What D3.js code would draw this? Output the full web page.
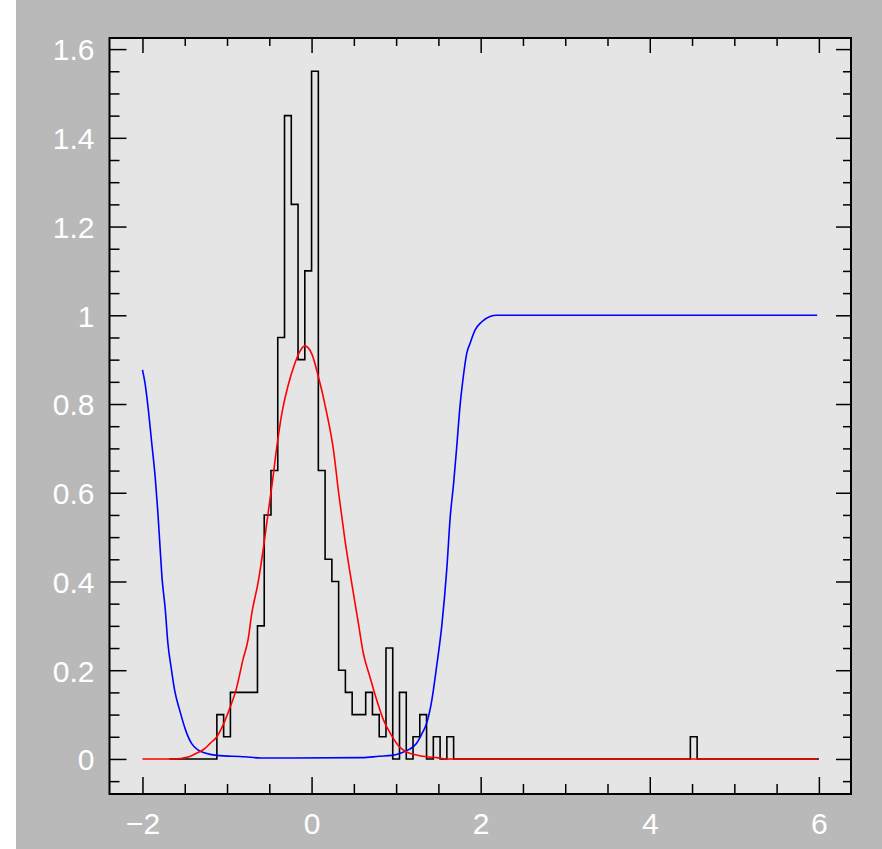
<!DOCTYPE html>
<html>
<head>
<meta charset="utf-8">
<script src="https://cdn.jsdelivr.net/npm/d3@7"></script>
<style>
  body { margin: 0; background: #ffffff; }
  svg { display: block; }
</style>
</head>
<body>
<svg width="882" height="849"></svg>
<script>
// histogram: bins of 0.08 starting at -1.68 (density per bin)
var histStart = -1.68,
    binWidth = 0.08;
var density = [
  0, 0, 0, 0, 0, 0, 0,
  0.1, 0.05, 0.15, 0.15, 0.15, 0.15, 0.3, 0.55, 0.65, 0.95,
  1.45, 1.25, 0.9, 1.1, 1.55, 0.65, 0.45, 0.4, 0.2, 0.15,
  0.1, 0.1, 0.15, 0.1, 0.05, 0.25, 0, 0.15, 0, 0.05,
  0.1, 0, 0.05, 0, 0.05,
  0, 0, 0, 0, 0, 0, 0, 0, 0, 0,
  0, 0, 0, 0, 0, 0, 0, 0, 0, 0,
  0, 0, 0, 0, 0, 0, 0, 0, 0, 0,
  0, 0, 0, 0, 0,
  0.05,
  0, 0, 0, 0, 0, 0, 0, 0, 0, 0,
  0, 0, 0, 0, 0, 0, 0, 0
];

// red curve (fitted density)
var redCurve = [
  [-2.0, 0], [-1.64, 0], [-1.45, 0.005], [-1.36, 0.013], [-1.26, 0.024],
  [-1.2, 0.035], [-1.12, 0.05], [-1.05, 0.075], [-0.97, 0.113], [-0.89, 0.158],
  [-0.81, 0.225], [-0.75, 0.27], [-0.71, 0.325], [-0.63, 0.4], [-0.57, 0.475],
  [-0.51, 0.56], [-0.47, 0.615], [-0.41, 0.705], [-0.355, 0.775], [-0.28, 0.84],
  [-0.2, 0.89], [-0.14, 0.918], [-0.08, 0.931], [0, 0.914], [0.08, 0.862],
  [0.18, 0.779], [0.26, 0.695], [0.32, 0.6], [0.39, 0.5], [0.45, 0.425],
  [0.55, 0.31], [0.61, 0.24], [0.69, 0.185], [0.77, 0.133], [0.85, 0.088],
  [0.93, 0.058], [1.03, 0.029], [1.12, 0.016], [1.24, 0.009], [1.36, 0.005],
  [1.48, 0.003], [1.6, 0], [5.98, 0]
];

// blue curve
var blueCurve = [
  [-2.0, 0.877], [-1.97, 0.847], [-1.93, 0.786], [-1.89, 0.711], [-1.85, 0.636],
  [-1.82, 0.561], [-1.795, 0.486], [-1.77, 0.411], [-1.73, 0.336], [-1.7, 0.262],
  [-1.66, 0.205], [-1.62, 0.155], [-1.56, 0.11], [-1.49, 0.065], [-1.42, 0.035],
  [-1.34, 0.02], [-1.25, 0.013], [-1.12, 0.008], [-0.79, 0.005], [-0.6, 0.002],
  [0.6, 0.003], [0.8, 0.006], [0.95, 0.008], [1.05, 0.013], [1.16, 0.022],
  [1.24, 0.035], [1.3, 0.055], [1.36, 0.08], [1.42, 0.13], [1.48, 0.21],
  [1.54, 0.3], [1.6, 0.43], [1.64, 0.546], [1.68, 0.621], [1.72, 0.711],
  [1.755, 0.794], [1.795, 0.862], [1.835, 0.914], [1.875, 0.937], [1.935, 0.967],
  [2.01, 0.985], [2.11, 0.997], [2.19, 1.0], [5.98, 1.0]
];

var xMajor = [-2, 0, 2, 4, 6],
    xLabels = ["\u22122", "0", "2", "4", "6"],
    xMinor = [-1.5, -1, -0.5, 0.5, 1, 1.5, 2.5, 3, 3.5, 4.5, 5, 5.5];
var yMajor = [0, 0.2, 0.4, 0.6, 0.8, 1, 1.2, 1.4, 1.6],
    yLabels = ["0", "0.2", "0.4", "0.6", "0.8", "1", "1.2", "1.4", "1.6"],
    yMinor = [-0.05, 0.05, 0.1, 0.15, 0.25, 0.3, 0.35, 0.45, 0.5, 0.55,
              0.65, 0.7, 0.75, 0.85, 0.9, 0.95, 1.05, 1.1, 1.15, 1.25,
              1.3, 1.35, 1.45, 1.5, 1.55];

var svg = d3.select("svg"),
    plotLeft = 109.5, plotRight = 851, plotTop = 38, plotBottom = 794;

var xScale = d3.scaleLinear().domain([-2.39, 6.38]).range([plotLeft, plotRight]),
    yScale = d3.scaleLinear().domain([-0.079, 1.625]).range([plotBottom, plotTop]);

// backgrounds
svg.append("rect").attr("x", 16).attr("y", 0).attr("width", 866).attr("height", 849)
   .attr("fill", "#b9b9b9");
svg.append("rect").attr("x", plotLeft).attr("y", plotTop)
   .attr("width", plotRight - plotLeft).attr("height", plotBottom - plotTop)
   .attr("fill", "#e5e5e5");

// histogram outline
var histPts = density.map(function(d, i) { return [histStart + i * binWidth, d]; });
histPts.push([histStart + density.length * binWidth, 0]);

var stepLine = d3.line()
    .x(function(d) { return xScale(d[0]); })
    .y(function(d) { return yScale(d[1]); })
    .curve(d3.curveStepAfter);

svg.append("path").datum(histPts)
   .attr("d", stepLine)
   .attr("fill", "none").attr("stroke", "#000").attr("stroke-width", 1.6);

var smooth = d3.line()
    .x(function(d) { return xScale(d[0]); })
    .y(function(d) { return yScale(d[1]); })
    .curve(d3.curveMonotoneX);

svg.append("path").datum(blueCurve)
   .attr("d", smooth)
   .attr("fill", "none").attr("stroke", "#0000ff").attr("stroke-width", 1.6);

svg.append("path").datum(redCurve)
   .attr("d", smooth)
   .attr("fill", "none").attr("stroke", "#ff0000").attr("stroke-width", 1.6);

// axes (ticks point inward)
function styleAxis(g) {
  g.select(".domain").remove();
  g.selectAll("line").attr("stroke", "#000").attr("stroke-width", 1.5);
  g.selectAll("text").attr("fill", "#fff")
   .style("font-family", "'Liberation Sans', Arial, sans-serif")
   .style("font-size", "30px");
}

svg.append("g").attr("transform", "translate(0," + plotBottom + ")")
   .call(d3.axisBottom(xScale).tickValues(xMajor).tickSizeInner(-17).tickSizeOuter(0)
         .tickPadding(19).tickFormat(function(d, i) { return xLabels[i]; }))
   .call(styleAxis);
svg.append("g").attr("transform", "translate(0," + plotBottom + ")")
   .call(d3.axisBottom(xScale).tickValues(xMinor).tickSizeInner(-10).tickSizeOuter(0)
         .tickFormat(""))
   .call(styleAxis);
svg.append("g").attr("transform", "translate(0," + plotTop + ")")
   .call(d3.axisTop(xScale).tickValues(xMajor).tickSizeInner(-15).tickSizeOuter(0)
         .tickFormat(""))
   .call(styleAxis);
svg.append("g").attr("transform", "translate(0," + plotTop + ")")
   .call(d3.axisTop(xScale).tickValues(xMinor).tickSizeInner(-8).tickSizeOuter(0)
         .tickFormat(""))
   .call(styleAxis);

svg.append("g").attr("transform", "translate(" + plotLeft + ",0)")
   .call(d3.axisLeft(yScale).tickValues(yMajor).tickSizeInner(-17).tickSizeOuter(0)
         .tickPadding(15).tickFormat(function(d, i) { return yLabels[i]; }))
   .call(styleAxis)
   .selectAll("text").attr("dy", "0.36em");
svg.append("g").attr("transform", "translate(" + plotLeft + ",0)")
   .call(d3.axisLeft(yScale).tickValues(yMinor).tickSizeInner(-10).tickSizeOuter(0)
         .tickFormat(""))
   .call(styleAxis);
svg.append("g").attr("transform", "translate(" + plotRight + ",0)")
   .call(d3.axisRight(yScale).tickValues(yMajor).tickSizeInner(-15).tickSizeOuter(0)
         .tickFormat(""))
   .call(styleAxis);
svg.append("g").attr("transform", "translate(" + plotRight + ",0)")
   .call(d3.axisRight(yScale).tickValues(yMinor).tickSizeInner(-8).tickSizeOuter(0)
         .tickFormat(""))
   .call(styleAxis);

// frame
svg.append("rect").attr("x", plotLeft).attr("y", plotTop)
   .attr("width", plotRight - plotLeft).attr("height", plotBottom - plotTop)
   .attr("fill", "none").attr("stroke", "#000").attr("stroke-width", 2);
</script>
</body>
</html>
